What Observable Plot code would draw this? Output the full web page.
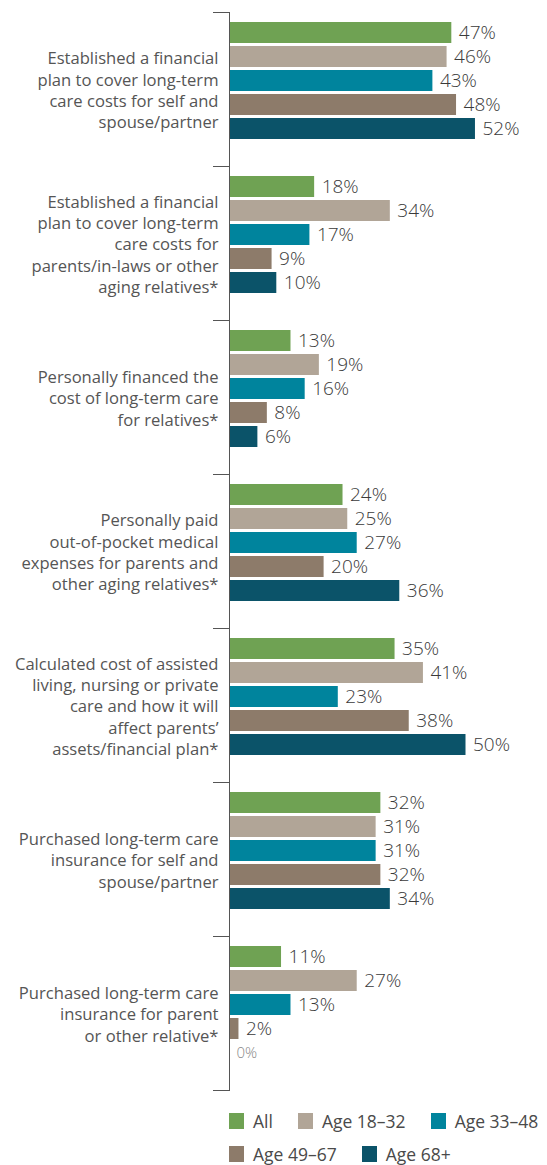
<!DOCTYPE html>
<html>
<head>
<meta charset="utf-8">
<script src="https://cdn.jsdelivr.net/npm/d3@7"></script>
<script src="https://cdn.jsdelivr.net/npm/@observablehq/plot@0.6"></script>
<style>
  body { margin: 0; background: #fff; font-family: "Open Sans", sans-serif; }
  #chart svg { display: block; }
  #legend { padding-left: 229px; padding-top: 4px; color: #4a4a4a; font-size: 17.5px; font-weight: 400; }
  #legend .row { display: flex; align-items: center; height: 33px; white-space: nowrap; }
  #legend .item { display: flex; align-items: center; margin-right: 25px; flex-shrink: 0; }
  #legend .sw { width: 15px; height: 16px; margin-right: 9px; flex-shrink: 0; }
</style>
</head>
<body>
<div id="chart"></div>
<div id="legend"></div>
<script>
const categories = [
  "Established a financial\nplan to cover long-term\ncare costs for self and\nspouse/partner",
  "Established a financial\nplan to cover long-term\ncare costs for\nparents/in-laws or other\naging relatives*",
  "Personally financed the\ncost of long-term care\nfor relatives*",
  "Personally paid\nout-of-pocket medical\nexpenses for parents and\nother aging relatives*",
  "Calculated cost of assisted\nliving, nursing or private\ncare and how it will\naffect parents’\nassets/financial plan*",
  "Purchased long-term care\ninsurance for self and\nspouse/partner",
  "Purchased long-term care\ninsurance for parent\nor other relative*"
];
const series = ["All", "Age 18–32", "Age 33–48", "Age 49–67", "Age 68+"];
const colors = ["#6fa253", "#b1a597", "#00849d", "#8d7b6a", "#0b5369"];

const valuesAll   = [47, 18, 13, 24, 35, 32, 11];
const values18_32 = [46, 34, 19, 25, 41, 31, 27];
const values33_48 = [43, 17, 16, 27, 23, 31, 13];
const values49_67 = [48,  9,  8, 20, 38, 32,  2];
const values68    = [52, 10,  6, 36, 50, 34,  0];
const seriesValues = [valuesAll, values18_32, values33_48, values49_67, values68];

const rows = [];
categories.forEach((c, i) => {
  series.forEach((s, j) => {
    rows.push({category: c, series: s, value: seriesValues[j][i]});
  });
});

const W = 547, H = 1100;
const plot = Plot.plot({
  width: W,
  height: H,
  marginLeft: 229,
  marginRight: 0,
  marginTop: 10,
  marginBottom: 9,
  facet: {margin: 0},
  style: {fontFamily: "Open Sans", background: "#fff"},
  fy: {domain: categories, range: [10, 1091], paddingInner: 0, paddingOuter: 0, axis: null},
  y: {domain: series, range: [16.6, 140.4], paddingInner: 0.11, paddingOuter: 0.055, axis: null},
  x: {domain: [0, 100], range: [229, 702], axis: null},
  color: {domain: series, range: colors},
  marks: [
    Plot.barX(rows, {fy: "category", y: "series", x: "value", fill: "series"}),
    Plot.frame({anchor: "left", stroke: "#555", strokeWidth: 1}),
    Plot.frame({anchor: "top", stroke: "#555", strokeWidth: 1, insetLeft: -16, insetRight: W - 229}),
    Plot.frame({anchor: "bottom", stroke: "#555", strokeWidth: 1, insetLeft: -16, insetRight: W - 229}),
    Plot.text(categories, {
      fy: d => d, text: d => d, frameAnchor: "left", textAnchor: "end", dx: -11,
      fontSize: 16.6, lineHeight: 1.28, fill: "#555", fontWeight: 400
    }),
    Plot.text(rows, {
      fy: "category", y: "series", x: "value", text: d => d.value + "%",
      textAnchor: "start", dx: 7, fontSize: d => d.value === 0 ? 15 : 19,
      fill: d => d.value === 0 ? "#888" : "#3a3a3a", fontWeight: 300
    })
  ]
});
document.getElementById("chart").appendChild(plot);

const legend = document.getElementById("legend");
[series.slice(0, 3), series.slice(3)].forEach(group => {
  const row = document.createElement("div");
  row.className = "row";
  group.forEach(s => {
    const item = document.createElement("div");
    item.className = "item";
    const sw = document.createElement("span");
    sw.className = "sw";
    sw.style.background = colors[series.indexOf(s)];
    const t = document.createElement("span");
    t.textContent = s;
    item.appendChild(sw);
    item.appendChild(t);
    row.appendChild(item);
  });
  legend.appendChild(row);
});
</script>
</body>
</html>
